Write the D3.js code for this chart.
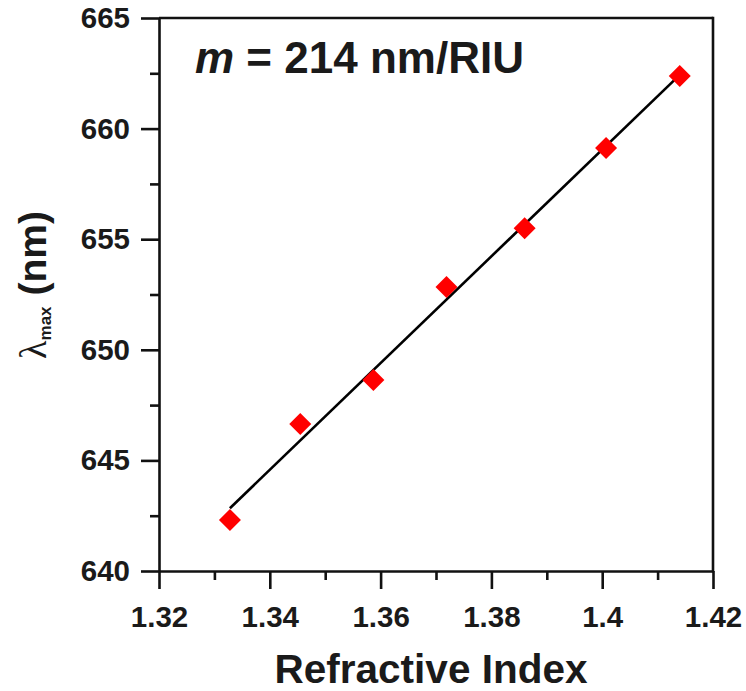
<!DOCTYPE html>
<html>
<head>
<meta charset="utf-8">
<script src="https://cdn.jsdelivr.net/npm/d3@7"></script>
<style>
  html, body { margin: 0; padding: 0; background: #fff; }
  svg { display: block; }
  text { font-family: "Liberation Sans", Arial, sans-serif; fill: #1a1a1a; }
</style>
</head>
<body>
<svg id="chart" width="746" height="691"></svg>
<script>
// ---- data ----
const refractiveIndex = [1.3328, 1.3455, 1.3587, 1.3719, 1.3860, 1.4007, 1.4140];
const lambdaMax = [642.3, 646.65, 648.63, 652.84, 655.5, 659.12, 662.38];
const xTicks = [1.32, 1.34, 1.36, 1.38, 1.40, 1.42];
const xTickLabels = ["1.32", "1.34", "1.36", "1.38", "1.4", "1.42"];
const xMinorTicks = [1.33, 1.35, 1.37, 1.39, 1.41];
const yTicks = [640, 645, 650, 655, 660, 665];
const yMinorTicks = [642.5, 647.5, 652.5, 657.5, 662.5];
const xDomain = [1.32, 1.42];
const yDomain = [640, 665];

// ---- layout ----
const margin = { left: 159, top: 18, right: 33, bottom: 120 };
const W = 746, H = 691;
const iw = 713 - margin.left, ih = 571 - margin.top;

const svg = d3.select("#chart");
const g = svg.append("g").attr("transform", `translate(${margin.left},${margin.top})`);

const x = d3.scaleLinear().domain(xDomain).range([0, iw]);
const y = d3.scaleLinear().domain(yDomain).range([ih, 0]);

const axisColor = "#111";
const sw = 2.6;

// frame (top and right lines)
g.append("line").attr("x1", 0).attr("x2", iw).attr("y1", 0).attr("y2", 0)
  .attr("stroke", axisColor).attr("stroke-width", sw);
g.append("line").attr("x1", iw).attr("x2", iw).attr("y1", 0).attr("y2", ih)
  .attr("stroke", axisColor).attr("stroke-width", sw).attr("stroke-linecap", "square");

// x axis
const xAxis = d3.axisBottom(x).tickValues(xTicks)
  .tickFormat((d, i) => xTickLabels[i]).tickSize(18).tickSizeOuter(0).tickPadding(14);
const gx = g.append("g").attr("transform", `translate(0,${ih})`).call(xAxis);
gx.select(".domain").attr("stroke", axisColor).attr("stroke-width", sw);
gx.selectAll(".tick line").attr("stroke", axisColor).attr("stroke-width", sw);
gx.selectAll(".tick text").attr("font-size", 29.5).attr("font-weight", "bold")
  .attr("fill", "#1a1a1a").attr("font-family", "Liberation Sans, Arial, sans-serif")
  .attr("dy", "0.71em").attr("y", 35);
g.append("g").attr("transform", `translate(0,${ih})`)
  .call(d3.axisBottom(x).tickValues(xMinorTicks).tickSize(9).tickFormat(""))
  .call(s => { s.select(".domain").remove(); s.selectAll("line").attr("stroke", axisColor).attr("stroke-width", sw); });

// y axis
const yAxis = d3.axisLeft(y).tickValues(yTicks).tickSize(18).tickSizeOuter(0).tickPadding(11);
const gy = g.append("g").call(yAxis);
gy.select(".domain").attr("stroke", axisColor).attr("stroke-width", sw);
gy.selectAll(".tick line").attr("stroke", axisColor).attr("stroke-width", sw);
gy.selectAll(".tick text").attr("font-size", 29.5).attr("font-weight", "bold")
  .attr("fill", "#1a1a1a").attr("font-family", "Liberation Sans, Arial, sans-serif");
g.append("g")
  .call(d3.axisLeft(y).tickValues(yMinorTicks).tickSize(9).tickFormat(""))
  .call(s => { s.select(".domain").remove(); s.selectAll("line").attr("stroke", axisColor).attr("stroke-width", sw); });

// linear fit (least squares from data)
const mx = d3.mean(refractiveIndex), my = d3.mean(lambdaMax);
let sxy = 0, sxx = 0;
refractiveIndex.forEach((xi, i) => { sxy += (xi - mx) * (lambdaMax[i] - my); sxx += (xi - mx) ** 2; });
const slope = sxy / sxx, icpt = my - slope * mx;
const fx = d3.extent(refractiveIndex);
g.append("line")
  .attr("x1", x(fx[0])).attr("y1", y(icpt + slope * fx[0]))
  .attr("x2", x(fx[1])).attr("y2", y(icpt + slope * fx[1]))
  .attr("stroke", "#000").attr("stroke-width", 2.6);

// markers
const sym = d3.symbol().type(d3.symbolSquare).size(242);
g.selectAll("path.pt").data(refractiveIndex).join("path")
  .attr("class", "pt")
  .attr("d", sym)
  .attr("transform", (d, i) => `translate(${x(d)},${y(lambdaMax[i])}) rotate(45)`)
  .attr("fill", "#ff0000");

// annotation
const ann = svg.append("text").attr("x", 195).attr("y", 73)
  .attr("font-size", 44).attr("font-weight", "bold");
ann.append("tspan").attr("font-style", "italic").text("m");
ann.append("tspan").text(" = 214 nm/RIU");

// x title
svg.append("text").attr("x", 431).attr("y", 683)
  .attr("text-anchor", "middle").attr("font-size", 40.5).attr("font-weight", "bold")
  .text("Refractive Index");

// y title
const yt = svg.append("text")
  .attr("transform", "translate(46,285) rotate(-90)")
  .attr("text-anchor", "middle");
yt.append("tspan").attr("font-family", "Liberation Serif, Times New Roman, serif")
  .attr("font-size", 38).text("λ");
yt.append("tspan").attr("font-size", 17).attr("font-weight", "bold").attr("dy", 5).text("max");
yt.append("tspan").attr("font-size", 39).attr("font-weight", "bold").attr("dy", -5).text(" (nm)");
</script>
</body>
</html>
